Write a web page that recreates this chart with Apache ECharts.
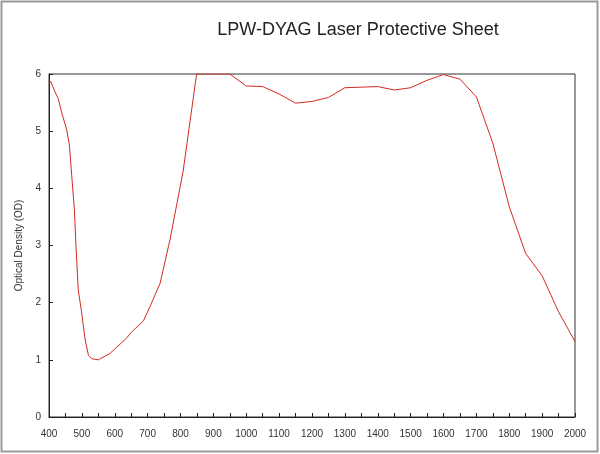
<!DOCTYPE html>
<html>
<head>
<meta charset="utf-8">
<script src="https://cdn.jsdelivr.net/npm/echarts@6/dist/echarts.min.js"></script>
<style>
  html, body { margin: 0; padding: 0; background: #fff; }
  #main { width: 600px; height: 454px; }
</style>
</head>
<body>
<div id="main"></div>
<script>
// wavelength (nm) and optical density
var wavelength = [400, 405, 411, 418, 428, 438, 454, 462, 469, 477, 482, 489, 499, 510, 520, 530, 540, 550,
  585, 636, 650, 687, 707, 738, 768, 808, 849, 950, 1000, 1050, 1100, 1150, 1200, 1250, 1300, 1350,
  1400, 1450, 1500, 1550, 1600, 1650, 1700, 1750, 1800, 1850, 1900, 1950, 2000];
var od = [5.83, 5.87, 5.89, 5.69, 5.57, 5.34, 5.02, 4.76, 4.23, 3.65, 3.0, 2.22, 1.84, 1.35, 1.08, 1.02, 1.01, 1.0,
  1.11, 1.38, 1.48, 1.68, 1.93, 2.34, 3.1, 4.3, 6.0, 6.0, 5.79, 5.78, 5.65, 5.49, 5.52, 5.59, 5.76, 5.77,
  5.78, 5.72, 5.76, 5.89, 5.99, 5.91, 5.60, 4.79, 3.68, 2.86, 2.47, 1.84, 1.32];

var points = wavelength.map(function (w, i) { return [w, od[i]]; });

var chart = echarts.init(document.getElementById('main'));

var option = {
  backgroundColor: '#fff',
  animation: false,
  title: {
    text: 'LPW-DYAG Laser Protective Sheet',
    left: 353,
    textAlign: 'center',
    top: 16,
    textStyle: { fontFamily: 'Liberation Sans', fontSize: 18, fontWeight: 'normal', color: '#222' }
  },
  graphic: [{
    type: 'rect',
    shape: { x: 1.5, y: 1.5, width: 596, height: 450 },
    style: { fill: 'none', stroke: '#9a9a9a', lineWidth: 2 },
    silent: true
  }],
  grid: {
    left: 49, right: 25, top: 74, bottom: 37,
    show: true, borderColor: '#333', borderWidth: 1
  },
  xAxis: {
    type: 'value', min: 400, max: 2000, interval: 100,
    axisLine: { lineStyle: { color: '#222' } },
    axisTick: { inside: true, length: 4, lineStyle: { color: '#222' } },
    minorTick: { show: true, splitNumber: 2, length: 4, lineStyle: { color: '#222' } },
    splitLine: { show: false },
    axisLabel: {
      fontFamily: 'Liberation Sans', fontSize: 10, color: '#333', margin: 12,
      formatter: function (v) { return String(v); }
    }
  },
  yAxis: {
    type: 'value', min: 0, max: 6, interval: 1,
    name: 'Optical Density (OD)',
    nameLocation: 'middle', nameGap: 21,
    nameTextStyle: { fontFamily: 'Liberation Sans', fontSize: 10, color: '#333' },
    axisLine: { show: true, lineStyle: { color: '#222' } },
    axisTick: { show: true, inside: true, length: 4, lineStyle: { color: '#222' } },
    splitLine: { show: false },
    axisLabel: { fontFamily: 'Liberation Sans', fontSize: 10, color: '#333', margin: 8 }
  },
  series: [{
    type: 'line',
    data: points,
    showSymbol: false,
    smooth: false,
    lineStyle: { color: '#d42a22', width: 1 }
  }]
};

chart.setOption(option);
</script>
</body>
</html>
